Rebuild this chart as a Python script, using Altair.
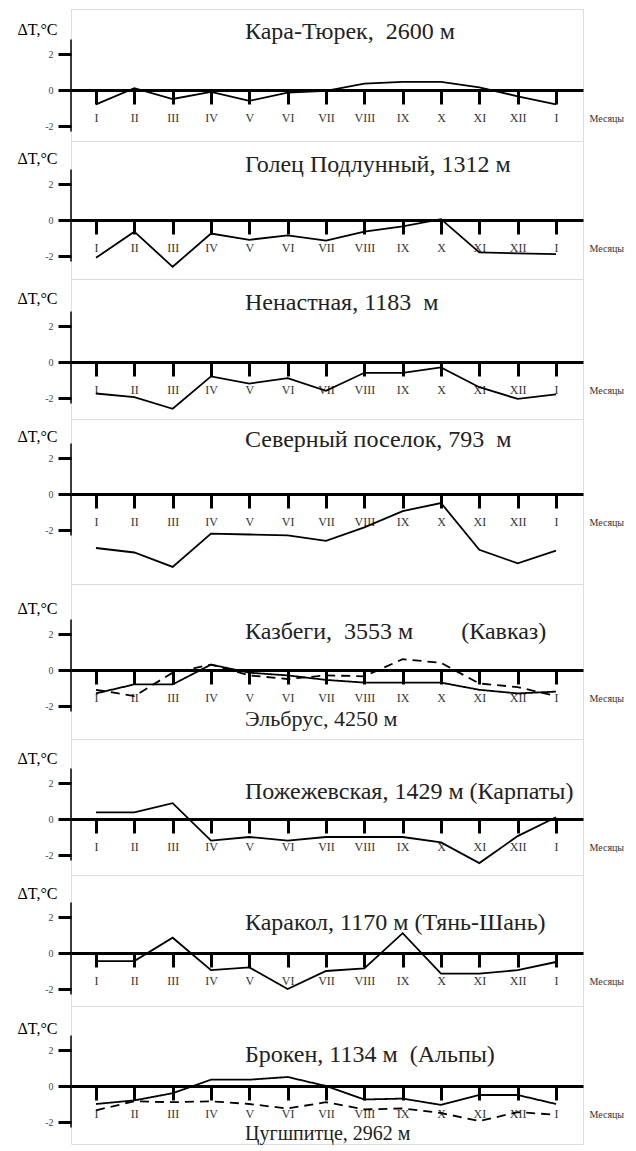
import altair as alt
import pandas as pd

# ---------------- data ----------------
months = ["I", "II", "III", "IV", "V", "VI", "VII", "VIII", "IX", "X", "XI", "XII", "I"]

kara_turek = [-0.8, 0.1, -0.5, -0.1, -0.6, -0.15, -0.05, 0.35, 0.45, 0.45, 0.15, -0.35, -0.8]
golets = [-2.1, -0.65, -2.6, -0.75, -1.1, -0.85, -1.15, -0.65, -0.35, 0.05, -1.8, -1.85, -1.9]
nenastnaya = [-1.75, -1.95, -2.6, -0.8, -1.2, -0.9, -1.6, -0.6, -0.6, -0.3, -1.4, -2.05, -1.8]
severny = [-3.0, -3.25, -4.05, -2.2, -2.25, -2.3, -2.6, -1.85, -0.95, -0.5, -3.1, -3.85, -3.15]
kazbegi = [-1.3, -0.8, -0.8, 0.3, -0.15, -0.3, -0.55, -0.7, -0.7, -0.7, -1.1, -1.3, -1.2]
elbrus = [-1.1, -1.45, -0.15, 0.3, -0.3, -0.5, -0.3, -0.35, 0.6, 0.4, -0.75, -0.95, -1.45]
pozhezhevska = [0.37, 0.37, 0.88, -1.2, -1.0, -1.2, -1.0, -1.0, -1.0, -1.3, -2.45, -0.95, 0.1]
karakol = [-0.45, -0.45, 0.85, -0.95, -0.8, -2.0, -1.0, -0.85, 1.1, -1.15, -1.15, -0.95, -0.5]
broken = [-1.0, -0.8, -0.4, 0.35, 0.35, 0.5, 0.0, -0.75, -0.7, -1.05, -0.5, -0.5, -1.0]
zugspitze = [-1.35, -0.85, -0.9, -0.85, -1.0, -1.25, -0.9, -1.3, -1.25, -1.5, -1.95, -1.45, -1.6]

NB = "\u00a0"
panels = [
    ("Кара-Тюрек," + NB + " 2600 м", None, [("Кара-Тюрек", kara_turek)]),
    ("Голец Подлунный, 1312 м", None, [("Голец Подлунный", golets)]),
    ("Ненастная, 1183" + NB + " м", None, [("Ненастная", nenastnaya)]),
    ("Северный поселок, 793" + NB + " м", None, [("Северный поселок", severny)]),
    ("Казбеги," + NB + " 3553 м" + NB * 7 + " (Кавказ)", "Эльбрус, 4250 м", [("Казбеги", kazbegi), ("Эльбрус", elbrus)]),
    ("Пожежевская, 1429 м (Карпаты)", None, [("Пожежевская", pozhezhevska)]),
    ("Каракол, 1170 м (Тянь-Шань)", None, [("Каракол", karakol)]),
    ("Брокен, 1134 м" + NB + " (Альпы)", "Цугшпитце, 2962 м", [("Брокен", broken), ("Цугшпитце", zugspitze)]),
]

# ---------------- layout (page pixels) ----------------
SERIF = "Liberation Serif"
TITLE_SIZE = 24
TITLE_SHIFT = 23
PX_PER_UNIT = 18.0
WIDTH = 512
X_DOMAIN = [-0.652, 12.704]
zero_px = [89, 219, 361, 493, 669, 818, 952, 1085]
edges_px = [8, 140, 278, 418, 583, 738, 874, 1005, 1143]
title_px = [32, 165, 303, 440, 632, 792, 923, 1056]
subtitle_px = {4: 718, 7: 1133}
subtitle_size = {4: 22, 7: 20}
dT_px = [28, 157, 297, 435, 607, 757, 892, 1027]

label_expr = "[" + ",".join("'%s'" % m for m in months) + "][datum.value]"


def make_panel(i, title, subtitle, series):
    top, bottom, zero = edges_px[i], edges_px[i + 1], zero_px[i]
    height = bottom - top
    hi = (zero - top) / PX_PER_UNIT
    lo = -(bottom - zero) / PX_PER_UNIT

    rows = []
    for name, vals in series:
        for m, v in enumerate(vals):
            rows.append({"m": m, "v": v, "s": name})
    df = pd.DataFrame(rows)

    x = alt.X(
        "m:Q",
        scale=alt.Scale(domain=X_DOMAIN, nice=False, zero=False),
        axis=alt.Axis(
            values=list(range(len(months))),
            labelExpr=label_expr,
            offset=-(bottom - zero),
            domainWidth=3,
            domainColor="black",
            tickSize=14,
            tickWidth=3,
            tickColor="black",
            labelPadding=8,
            labelFontSize=12,
            labelFont=SERIF,
            labelColor="#333",
            labelFlush=False,
            labelOverlap=False,
            grid=False,
            title="Месяцы",
            titleX=WIDTH + 6,
            titleY=28,
            titleAlign="left",
            titleBaseline="middle",
            titleFontSize=10,
            titleFontWeight="normal",
            titleFont=SERIF,
            titleColor="#333",
        ),
    )
    y = alt.Y(
        "v:Q",
        scale=alt.Scale(domain=[lo, hi], nice=False, zero=False),
        axis=alt.Axis(
            values=[-2, 0, 2],
            labelExpr="datum.value < 0 ? '-' + abs(datum.value) : '' + datum.value",
            domain=False,
            tickSize=13,
            tickWidth=3,
            tickColor="black",
            labelPadding=5,
            labelFontSize=10,
            labelFont=SERIF,
            labelColor="#444",
            grid=False,
            title="ΔT,°C",
            titleAngle=0,
            titleAlign="left",
            titleBaseline="middle",
            titleX=-54,
            titleY=dT_px[i] - top,
            titleFontSize=16,
            titleFont=SERIF,
            titleFontWeight="normal",
            titleColor="black",
        ),
    )

    if len(series) > 1:
        line = alt.Chart(df).mark_line(color="black", strokeWidth=1.8).encode(
            x=x,
            y=y,
            strokeDash=alt.StrokeDash(
                "s:N",
                scale=alt.Scale(domain=[s[0] for s in series], range=[[1, 0], [9, 6]]),
                legend=None,
            ),
        )
    else:
        line = alt.Chart(df).mark_line(color="black", strokeWidth=1.8).encode(x=x, y=y)

    yaxis_line = alt.Chart(alt.Data(values=[{}])).mark_rule(color="black", strokeWidth=1.5).encode(
        x=alt.value(0), y=alt.datum(-2.3), y2=alt.datum(2.8)
    )

    tp = dict(
        text=title,
        anchor="start",
        frame="group",
        dx=174,
        offset=0,
        baseline="middle",
        fontSize=TITLE_SIZE,
        font=SERIF,
        fontWeight="normal",
        color="#222",
    )
    if subtitle:
        sub_rel = subtitle_px[i] - top
        gap = subtitle_px[i] - title_px[i]
        sub_size = subtitle_size[i]
        tp.update(
            dy=sub_rel + TITLE_SHIFT - (22 - sub_size) // 2,
            subtitle=subtitle,
            subtitleFont=SERIF,
            subtitleFontSize=sub_size,
            subtitleColor="#222",
            subtitlePadding=gap - 23 - (sub_size - 22) // 2,
        )
    else:
        tp.update(dy=title_px[i] - top + TITLE_SHIFT)

    return alt.layer(yaxis_line, line).properties(
        width=WIDTH, height=height, title=alt.TitleParams(**tp)
    )


charts = [make_panel(i, t, s, ser) for i, (t, s, ser) in enumerate(panels)]

chart = (
    alt.vconcat(*charts, spacing=0, bounds="flush")
    .properties(padding={"left": 8, "top": 0, "right": 0, "bottom": 0})
    .configure_view(stroke=None)
    .configure(background="white")
)

chart.save("out.html", embed_options={"renderer": "svg", "actions": False})
